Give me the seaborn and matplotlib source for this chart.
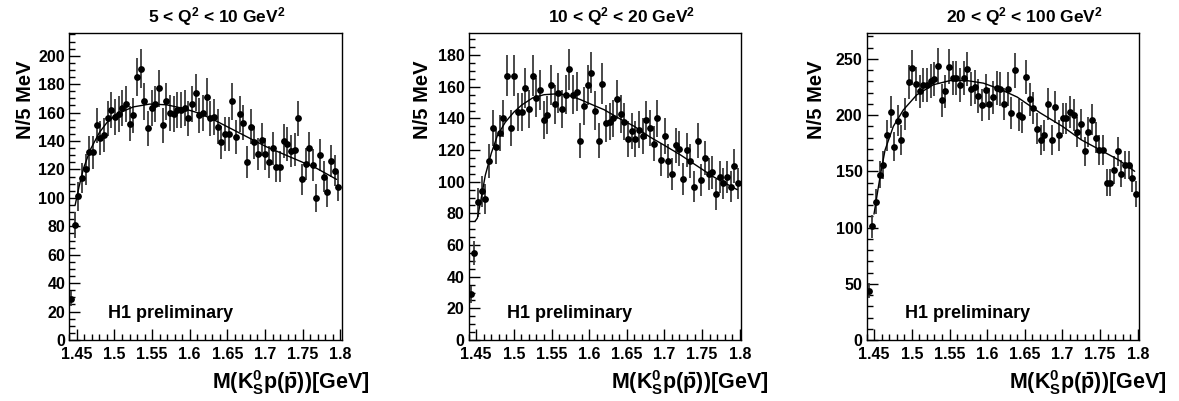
import numpy as np
import pandas as pd
import matplotlib
matplotlib.use("Agg")
import matplotlib.pyplot as plt
import seaborn as sns
from matplotlib.ticker import MultipleLocator

# ---------------- data ----------------
mass_lo, mass_hi, n_bins = 1.44, 1.80, 74

titles = [r"5 < Q$^{2}$ < 10 GeV$^{2}$",
          r"10 < Q$^{2}$ < 20 GeV$^{2}$",
          r"20 < Q$^{2}$ < 100 GeV$^{2}$"]

counts_q1 = [29, 81, 101, 114, 120, 132, 132, 151, 142, 144, 156, 162, 157, 159, 163,
             166, 152, 158, 185, 191, 168, 149, 163, 166, 177, 151, 168, 160, 159, 162,
             162, 163, 156, 166, 174, 158, 160, 171, 156, 157, 150, 139, 145, 145, 168,
             143, 159, 153, 125, 150, 139, 131, 141, 131, 125, 135, 122, 122, 140, 138,
             133, 134, 156, 113, 124, 135, 123, 100, 130, 115, 104, 126, 119, 108]

counts_q2 = [29, 55, 87, 94, 89, 113, 134, 122, 131, 140, 167, 134, 167, 144, 144,
             159, 146, 167, 153, 158, 139, 142, 161, 149, 156, 146, 155, 171, 155, 157,
             126, 148, 161, 169, 145, 126, 162, 137, 138, 140, 152, 143, 138, 127, 132,
             127, 133, 129, 139, 134, 124, 140, 114, 129, 113, 105, 123, 121, 102, 120,
             113, 97, 126, 101, 115, 105, 106, 92, 103, 99, 103, 97, 110, 99]

counts_q3 = [44, 101, 123, 147, 156, 182, 203, 172, 195, 178, 201, 229, 242, 228, 221,
             227, 227, 230, 232, 244, 213, 221, 243, 233, 233, 227, 233, 241, 223, 225,
             217, 209, 222, 210, 216, 224, 223, 210, 223, 202, 240, 200, 198, 234, 214,
             206, 188, 178, 182, 210, 178, 207, 182, 197, 197, 203, 200, 185, 192, 168,
             185, 196, 180, 169, 169, 140, 140, 151, 168, 148, 156, 156, 144, 130]

# fitted curves
fit_x_q1 = [1.4478, 1.4530, 1.4590, 1.4680, 1.4800, 1.4900, 1.5030, 1.5250, 1.5470, 1.5690,
            1.5910, 1.6130, 1.6354, 1.6574, 1.6795, 1.7016, 1.7236, 1.7457, 1.7678, 1.7951]
fit_y_q1 = [95, 108, 121, 134, 146, 153, 159, 164, 166, 165.5,
            163, 159.5, 154, 148, 142, 136, 131, 126, 121, 113]

fit_x_q2 = [1.4484, 1.4515, 1.4560, 1.4620, 1.4700, 1.4780, 1.4884, 1.5000, 1.5105, 1.5250,
            1.5400, 1.5550, 1.5700, 1.5880, 1.6050, 1.6200, 1.6400, 1.6600, 1.6800, 1.7000,
            1.7212, 1.7434, 1.7656, 1.7967]
fit_y_q2 = [75, 77, 88, 104, 118, 129, 137.5, 144, 148.5, 153,
            155, 155.5, 155, 152, 148.5, 145.5, 140, 135, 128.5, 123,
            117, 110, 103, 95]

fit_x_q3 = [1.4497, 1.4577, 1.4644, 1.4754, 1.4887, 1.5065, 1.5286, 1.5508, 1.5729, 1.5951,
            1.6172, 1.6400, 1.6704, 1.7000, 1.7250, 1.7502, 1.7750, 1.7960]
fit_y_q3 = [112, 145, 169, 190, 204.6, 218, 227, 230.7, 230.7, 228.4,
            223, 216, 202, 190, 178, 169, 160, 150]

y_limits = [216, 194, 273]
y_major = [20, 20, 50]
y_minor = [5, 5, 10]

# ---------------- style ----------------
sns.set_theme(style="white")
plt.rcParams["font.family"] = ["Liberation Sans", "DejaVu Sans"]
plt.rcParams["font.weight"] = "bold"
plt.rcParams["text.color"] = "black"
plt.rcParams["axes.labelcolor"] = "black"
plt.rcParams["mathtext.fontset"] = "custom"
plt.rcParams["mathtext.rm"] = "Liberation Sans:bold"
plt.rcParams["mathtext.it"] = "Liberation Sans:bold"
plt.rcParams["mathtext.bf"] = "Liberation Sans:bold"

fig = plt.figure(figsize=(11.79, 4.01), dpi=100)
fig.patch.set_facecolor("white")

lefts = [69.3 / 1179, 468.7 / 1179, 866.7 / 1179]
width = 272.5 / 1179
bottom = 1 - 340 / 401
height = 307 / 401
title_x = [0.54, 0.5625, 0.578]
ylab_x = [-0.162, -0.168, -0.184]

edges = np.linspace(mass_lo, mass_hi, n_bins + 1)
centers = 0.5 * (edges[:-1] + edges[1:])

all_counts = [counts_q1, counts_q2, counts_q3]
all_fx = [fit_x_q1, fit_x_q2, fit_x_q3]
all_fy = [fit_y_q1, fit_y_q2, fit_y_q3]

for i in range(3):
    ax = fig.add_axes([lefts[i], bottom, width, height])
    counts = np.array(all_counts[i], dtype=float)
    df = pd.DataFrame({"mass": centers, "n": counts})
    ax.errorbar(df["mass"], df["n"], yerr=np.sqrt(df["n"]), fmt="none",
                ecolor="#3a3a3a", elinewidth=1.3, capsize=0, zorder=2)
    sns.scatterplot(data=df, x="mass", y="n", ax=ax, color="black", s=24,
                    edgecolor="black", linewidth=0, zorder=3, legend=False)
    fdf = pd.DataFrame({"mass": all_fx[i], "fit": all_fy[i]})
    sns.lineplot(data=fdf, x="mass", y="fit", ax=ax, color="black", lw=1.0,
                 sort=False, zorder=4)

    ax.set_xlim(1.44, 1.802)
    ax.set_ylim(0, y_limits[i])
    ax.xaxis.set_major_locator(MultipleLocator(0.05))
    ax.xaxis.set_minor_locator(MultipleLocator(0.01))
    ax.yaxis.set_major_locator(MultipleLocator(y_major[i]))
    ax.yaxis.set_minor_locator(MultipleLocator(y_minor[i]))
    ax.xaxis.set_major_formatter(matplotlib.ticker.FuncFormatter(
        lambda v, p: ("%.2f" % v).rstrip("0").rstrip(".")))
    ax.tick_params(axis="both", which="both", direction="in", top=False, right=False,
                   bottom=True, left=True, colors="black", labelsize=11.5)
    ax.tick_params(axis="x", which="major", pad=5)
    ax.tick_params(axis="y", which="major", pad=3)
    ax.tick_params(axis="both", which="major", length=8, width=1)
    ax.tick_params(axis="both", which="minor", length=4, width=1)
    for lab in ax.get_xticklabels() + ax.get_yticklabels():
        lab.set_fontweight("bold")
    for sp in ax.spines.values():
        sp.set_color("black")
        sp.set_linewidth(1.0)
    ax.set_xlabel("")
    ax.set_ylabel("")

    ax.text(title_x[i], 1.052, titles[i], transform=ax.transAxes, ha="center",
            va="center", fontsize=12.5, fontweight="bold")
    ax.text(ylab_x[i], 0.912, "N/5 MeV", transform=ax.transAxes, rotation=90,
            ha="center", va="top", fontsize=14.5, fontweight="bold")
    ax.text(1.10, -0.14, r"M(K$^{0}_{S}$p($\bar{p}$))[GeV]", transform=ax.transAxes,
            ha="right", va="center", fontsize=15.5, fontweight="bold")
    ax.text(0.142, 0.085, "H1 preliminary", transform=ax.transAxes, ha="left",
            va="center", fontsize=13, fontweight="bold")

fig.savefig("out.png", dpi=100, facecolor="white")
